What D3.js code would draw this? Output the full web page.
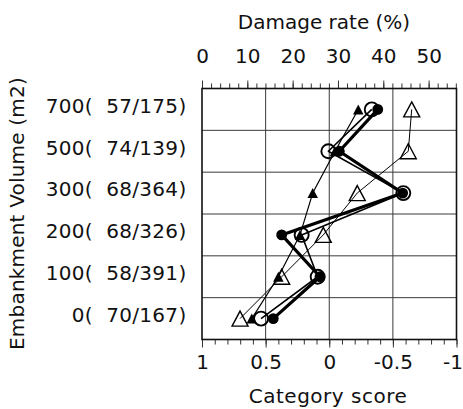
<!DOCTYPE html>
<html>
<head>
<meta charset="utf-8">
<script src="https://cdn.jsdelivr.net/npm/d3@7"></script>
<style>
  html, body { margin: 0; padding: 0; background: #fff; }
  svg { display: block; }
  text { font-family: "DejaVu Sans", sans-serif; fill: #111; }
</style>
</head>
<body>
<svg id="chart" width="463" height="409"></svg>
<script>
// ---- data ----
const rows = ["0", "100", "200", "300", "500", "700"];
const rowLabels = ["0(  70/167)", "100(  58/391)", "200(  68/326)", "300(  68/364)", "500(  74/139)", "700(  57/175)"];
const openCircle     = [0.536, 0.091, 0.217, -0.582, 0.007, -0.334];
const filledCircle   = [0.440, 0.073, 0.374, -0.577, -0.079, -0.381];
const filledTriangle = [0.609, 0.400, 0.230, 0.130, -0.045, -0.228];
const openTriangle   = [0.701, 0.374, 0.047, -0.220, -0.621, -0.648];
const scoreTicks = [1, 0.5, 0, -0.5, -1];
const scoreMinor = d3.range(-10, 11).map(d => d / 10);
const rateTicks = [0, 10, 20, 30, 40, 50];
const rateMinor = d3.range(0, 57, 2);

// ---- layout ----
const L = 202, R = 456.5, T = 88.5, B = 339.5;
const svg = d3.select("#chart");

const x = d3.scaleLinear().domain([1, -1]).range([L, R]);
const xTop = d3.scaleLinear().domain([0, 56.15]).range([L, R]);
const y = d3.scaleBand().domain(rows.slice().reverse()).range([T, B]);
const yc = r => y(r) + y.bandwidth() / 2;

// grid
const grid = svg.append("g").attr("stroke", "#3a3a3a").attr("stroke-width", 1);
grid.selectAll("line.v").data([0.5, 0, -0.5]).join("line")
  .attr("x1", d => x(d)).attr("x2", d => x(d)).attr("y1", T).attr("y2", B);
grid.selectAll("line.h").data(rows.slice(1)).join("line")
  .attr("x1", L).attr("x2", R)
  .attr("y1", d => y(d) + y.bandwidth()).attr("y2", d => y(d) + y.bandwidth());

// axes
const fmt = d => String(d);
const gBottomMinor = svg.append("g").attr("transform", `translate(0,${B})`)
  .call(d3.axisBottom(x).tickValues(scoreMinor).tickSize(5).tickFormat(""));
const gBottom = svg.append("g").attr("transform", `translate(0,${B})`)
  .call(d3.axisBottom(x).tickValues(scoreTicks).tickSize(8).tickPadding(7).tickFormat(fmt));
const gTopMinor = svg.append("g").attr("transform", `translate(0,${T})`)
  .call(d3.axisTop(xTop).tickValues(rateMinor).tickSize(5).tickFormat(""));
const gTop = svg.append("g").attr("transform", `translate(0,${T})`)
  .call(d3.axisTop(xTop).tickValues(rateTicks).tickSize(8).tickPadding(18).tickFormat(fmt));
[gBottomMinor, gBottom, gTopMinor, gTop].forEach(g => {
  g.select(".domain").remove();
  g.selectAll("line").attr("stroke", "#333").attr("stroke-width", 1);
  g.selectAll("text").attr("font-size", 20).attr("font-family", "DejaVu Sans, sans-serif").attr("fill", "#111");
});
// keep the last bottom label inside the page
gBottom.selectAll("text").filter(d => d === -1).attr("dx", -4);

// frame
svg.append("rect").attr("x", L).attr("y", T).attr("width", R - L).attr("height", B - T)
  .attr("fill", "none").attr("stroke", "#111").attr("stroke-width", 1.6);

// row labels
svg.append("g").selectAll("text").data(rows).join("text")
  .attr("x", 186.5).attr("y", (d) => yc(d) + 3.3)
  .attr("text-anchor", "end").attr("font-size", 20)
  .attr("letter-spacing", 0.3)
  .style("white-space", "pre")
  .attr("xml:space", "preserve")
  .text((d, i) => rowLabels[i]);

// titles
svg.append("text").attr("x", 324).attr("y", 28.5).attr("text-anchor", "middle")
  .attr("font-size", 20).text("Damage rate (%)");
svg.append("text").attr("x", 328).attr("y", 403.3).attr("text-anchor", "middle")
  .attr("font-size", 20).attr("letter-spacing", 0.5).text("Category score");
svg.append("text").attr("transform", "translate(23.5,213.5) rotate(-90)")
  .attr("text-anchor", "middle").attr("font-size", 20).attr("letter-spacing", 0.2)
  .text("Embankment Volume (m2)");

// series
const series = [
  { vals: openTriangle, lw: 1, shape: "tri", size: [16, 15], fill: "none", sw: 1.4 },
  { vals: filledTriangle, lw: 1.2, shape: "tri", size: [10.5, 10], fill: "#000", sw: 0 },
  { vals: openCircle, lw: 1.6, shape: "circle", r: 7, fill: "none", sw: 1.9 },
  { vals: filledCircle, lw: 3.2, shape: "circle", r: 5.4, fill: "#000", sw: 0 }
];
const line = d3.line().x(d => x(d.v)).y(d => yc(d.r));
const toPts = vals => vals.map((v, i) => ({ v, r: rows[i] }));

const lines = svg.append("g").attr("fill", "none").attr("stroke", "#000");
series.forEach(s => {
  lines.append("path").attr("d", line(toPts(s.vals))).attr("stroke-width", s.lw)
    .attr("stroke-linejoin", "round");
});
const marks = svg.append("g");
series.forEach(s => {
  const pts = toPts(s.vals);
  if (s.shape === "circle") {
    marks.append("g").selectAll("circle").data(pts).join("circle")
      .attr("cx", d => x(d.v)).attr("cy", d => yc(d.r)).attr("r", s.r)
      .attr("fill", s.fill).attr("stroke", s.sw ? "#000" : "none").attr("stroke-width", s.sw);
  } else {
    const [w, h] = s.size;
    const p = `M0,${-h / 2}L${w / 2},${h / 2}L${-w / 2},${h / 2}Z`;
    marks.append("g").selectAll("path").data(pts).join("path")
      .attr("transform", d => `translate(${x(d.v)},${yc(d.r)})`).attr("d", p)
      .attr("fill", s.fill).attr("stroke", s.sw ? "#000" : "none").attr("stroke-width", s.sw)
      .attr("stroke-linejoin", "miter");
  }
});
</script>
</body>
</html>
